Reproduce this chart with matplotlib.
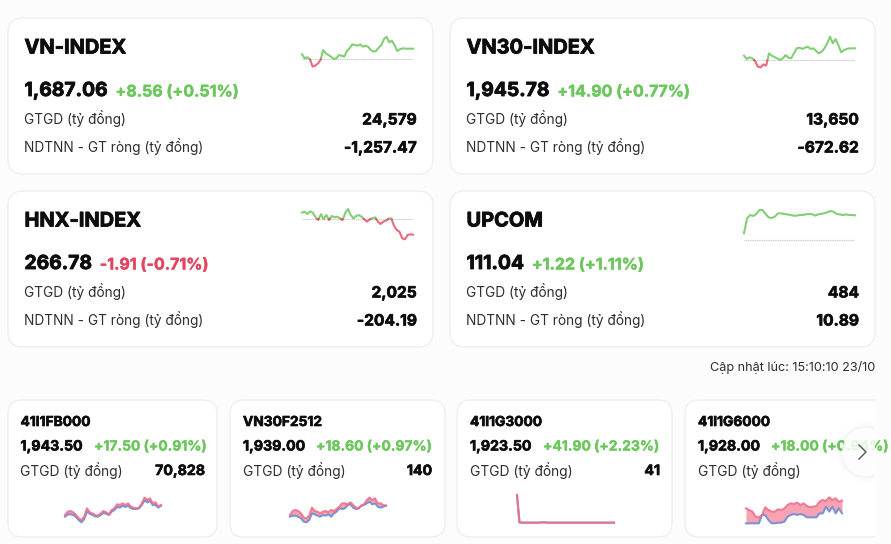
import matplotlib
matplotlib.use("Agg")
import matplotlib.pyplot as plt
import matplotlib.patheffects as pe
from matplotlib.patches import FancyBboxPatch, Circle, Rectangle
import numpy as np

plt.rcParams['font.family'] = ['Inter', 'Noto Sans', 'DejaVu Sans']

GREEN = '#6cc75c'
RED = '#e6455f'
BLUE = '#6f8fd6'
PINK = '#ef6f88'
DARK = '#0d0d0d'
GREY = '#2e2e2e'

# big cards
names = ['VN-INDEX', 'VN30-INDEX', 'HNX-INDEX', 'UPCOM']
prices = ['1,687.06', '1,945.78', '266.78', '111.04']
changes = ['+8.56 (+0.51%)', '+14.90 (+0.77%)', '-1.91 (-0.71%)', '+1.22 (+1.11%)']
gtgd = ['24,579', '13,650', '2,025', '484']
ndtnn = ['-1,257.47', '-672.62', '-204.19', '10.89']

# small cards
small_names = ['41I1FB000', 'VN30F2512', '41I1G3000', '41I1G6000']
small_prices = ['1,943.50', '1,939.00', '1,923.50', '1,928.00']
small_changes = ['+17.50 (+0.91%)', '+18.60 (+0.97%)', '+41.90 (+2.23%)', '+18.00 (+0.94%)']
small_gtgd = ['70,828', '140', '41', '']

# sparklines (screen height, larger = lower)
vn_line = [88, 100, 97, 102, 125, 122, 116, 105, 75, 85, 90, 95, 102, 100, 90, 92, 95, 78, 70, 58, 60, 62,
           58, 65, 62, 65, 75, 80, 78, 68, 60, 42, 35, 52, 47, 60, 78, 73, 70, 71, 71, 71, 71]
vn30_line = [92, 102, 97, 100, 108, 125, 127, 118, 122, 85, 92, 96, 100, 105, 100, 90, 98, 100, 85, 70, 68, 72, 68,
             65, 72, 70, 78, 85, 80, 70, 55, 35, 55, 42, 60, 82, 75, 72, 70, 70, 70]
hnx_line = [38, 35, 42, 34, 38, 52, 60, 42, 58, 45, 60, 48, 52, 50, 55, 60, 38, 27, 45, 55, 48, 45, 50, 58, 65, 58,
            55, 52, 65, 72, 65, 62, 56, 55, 78, 90, 95, 115, 118, 105, 103, 104]
upcom_line = [100, 55, 45, 48, 42, 30, 30, 42, 52, 54, 50, 40, 40, 42, 43, 45, 47, 47, 45, 45, 43, 42, 42, 47, 43,
              42, 40, 37, 33, 35, 42, 43, 45, 43, 45, 45, 46]

fb_red = [90, 80, 78, 82, 90, 100, 105, 95, 70, 82, 85, 90, 92, 85, 78, 82, 88, 75, 70, 58, 60, 55, 60, 55, 65, 68,
          70, 68, 55, 38, 45, 40, 55, 52, 65, 60]
fb_blue = [95, 88, 88, 90, 96, 105, 112, 102, 80, 86, 90, 94, 95, 90, 84, 86, 90, 80, 75, 66, 68, 62, 66, 62, 70,
           72, 72, 70, 60, 46, 52, 48, 60, 60, 68, 62]
f2_red = [90, 78, 75, 78, 85, 98, 100, 92, 68, 78, 80, 85, 80, 78, 82, 75, 78, 72, 65, 55, 55, 58, 52, 60, 68, 70,
          62, 58, 45, 38, 45, 40, 55, 55, 60, 62]
f2_blue = [95, 92, 92, 95, 100, 110, 112, 105, 85, 88, 92, 95, 90, 92, 88, 95, 85, 80, 70, 72, 70, 60, 58, 68, 72,
           70, 62, 60, 55, 50, 58, 55, 65, 68, 65, 62]
g3_red = [30, 112, 113, 113, 113, 113, 113, 113, 113, 113, 112, 112, 113, 113, 113, 113, 113, 113, 113, 113, 113,
          113, 113, 113, 113, 113, 113, 113, 113, 113, 113, 113, 113, 113, 113, 113, 113, 113, 113, 113]
g6_red = [325, 330, 335, 350, 352, 345, 322, 330, 335, 335, 328, 330, 325, 315, 310, 312, 308, 315, 310, 318, 322,
          320, 318, 305, 300, 303, 292, 300, 295, 305, 302]
g6_blue = [370, 370, 370, 370, 370, 345, 345, 360, 370, 370, 368, 368, 365, 350, 345, 342, 345, 342, 345, 352, 352,
           352, 352, 340, 340, 320, 335, 320, 340, 325, 340]

W, H = 891, 544
fig = plt.figure(figsize=(W / 100, H / 100), dpi=100, facecolor='#fcfcfc')
ax = fig.add_axes([0, 0, 1, 1])
ax.set_xlim(0, W)
ax.set_ylim(H, 0)
ax.axis('off')


def heavy(t, w=0.45):
    # the installed bold is lighter than the one in the picture
    t.set_path_effects([pe.withStroke(linewidth=w, foreground=t.get_color())])
    return t


def card(x0, y0, x1, y1, r=15, clip=None):
    p = FancyBboxPatch((x0 + r, y0 + r), x1 - x0 - 2 * r, y1 - y0 - 2 * r,
                       boxstyle="round,pad=%d,rounding_size=%d" % (r, r),
                       fc='white', ec='#efefef', lw=1.0)
    ax.add_patch(p)
    if clip is not None:
        p.set_clip_path(clip)


def px_axes(x0, x1, y0, y1, zmin, zmax):
    # axes placed in pixels, its y range is the height range of the sparkline
    a = fig.add_axes([x0 / W, 1 - y1 / H, (x1 - x0) / W, (y1 - y0) / H])
    a.set_ylim(zmax, zmin)
    a.axis('off')
    a.patch.set_alpha(0)
    return a


def spark_index(vals, base, x0, x1, ytop, zscale=3.0):
    # green above the reference level, red below it
    vals = np.array(vals, dtype=float)
    n = len(vals)
    xs = np.arange(n)
    zmin, zmax = 0, 150
    a = px_axes(x0, x1, ytop, ytop + (zmax - zmin) / zscale, zmin, zmax)
    a.set_xlim(0, n - 1)
    a.plot(xs, np.full(n, base), color='#c9c9c9', lw=0.8, ls=(0, (1, 0.6)))
    xf = np.linspace(0, n - 1, n * 10)
    yf = np.interp(xf, xs, vals)
    a.plot(xf, np.ma.masked_where(yf > base, yf), color=GREEN, lw=1.5, alpha=0.85, clip_on=False)
    a.plot(xf, np.ma.masked_where(yf <= base, yf), color=RED, lw=1.5, alpha=0.8, clip_on=False)


def spark_basis(red, blue, x0, x1, ytop, zmin, zmax, zscale=3.0):
    n = len(red)
    xs = np.arange(n)
    a = px_axes(x0, x1, ytop, ytop + (zmax - zmin) / zscale, zmin, zmax)
    a.set_xlim(0, n - 1)
    a.fill_between(xs, red, blue, color='#f8a3b3', lw=0)
    a.plot(xs, blue, color=BLUE, lw=1.5, alpha=0.9, clip_on=False)
    a.plot(xs, red, color=PINK, lw=1.5, alpha=0.9, clip_on=False)


# big cards
big_x = [8, 450, 8, 450]
big_y = [18, 18, 191, 191]
for i in range(4):
    x, y = big_x[i], big_y[i]
    card(x, y, x + 425, y + 156)
    tx = x + 16.5
    heavy(ax.text(tx, y + 30.5, names[i], fontsize=14.4, fontweight='bold', color=DARK, va='center'), 0.6)
    t = heavy(ax.text(tx, y + 73, prices[i], fontsize=13.9, fontweight='bold', color=DARK, va='center'), 0.6)
    fig.canvas.draw()
    bb = t.get_window_extent()
    col = RED if changes[i].startswith('-') else GREEN
    heavy(ax.text(bb.x1 + 8, y + 74, changes[i], fontsize=11.5, fontweight='bold', color=col, va='center'), 0.3)
    ax.text(tx, y + 101, 'GTGD (tỷ đồng)', fontsize=9.85, color=GREY, va='center')
    heavy(ax.text(x + 409, y + 102, gtgd[i], fontsize=11.2, fontweight='bold', color=DARK, va='center', ha='right'))
    ax.text(tx, y + 129, 'NDTNN - GT ròng (tỷ đồng)', fontsize=9.85, color=GREY, va='center')
    heavy(ax.text(x + 409, y + 130, ndtnn[i], fontsize=11.2, fontweight='bold', color=DARK, va='center', ha='right'))

spark_index(vn_line, 103, 302, 413, 25)
spark_index(vn30_line, 105, 744, 855, 25)
spark_index(hnx_line, 57, 302, 413, 200)
spark_index(upcom_line, 120, 744, 855, 200)

ax.text(875, 368, 'Cập nhật lúc: 15:10:10 23/10', fontsize=9.1, color=GREY, va='center', ha='right')

# small cards, the carousel is cut off at x = 875
clip = Rectangle((0, 390), 875, 154, transform=ax.transData)
small_x0 = [8, 230, 457, 685]
small_x1 = [217, 445, 672, 900]
small_tx = [20.5, 243, 470, 698]
small_cx = [94, 316, 543, 771]
small_vx = [205, 432, 660, 0]
for i in range(4):
    card(small_x0[i], 400, small_x1[i], 537, r=14, clip=clip)
    heavy(ax.text(small_tx[i], 422, small_names[i], fontsize=9.9, fontweight='bold', color=DARK, va='center'))
    heavy(ax.text(small_tx[i], 446.5, small_prices[i], fontsize=10.2, fontweight='bold', color=DARK, va='center'))
    t = heavy(ax.text(small_cx[i], 446.5, small_changes[i], fontsize=10.0, fontweight='bold', color=GREEN, va='center'), 0.25)
    t.set_clip_path(clip)
    ax.text(small_tx[i], 471, 'GTGD (tỷ đồng)', fontsize=9.9, color=GREY, va='center')
    if small_gtgd[i]:
        heavy(ax.text(small_vx[i], 471, small_gtgd[i], fontsize=10.2, fontweight='bold', color=DARK, va='center', ha='right'))

spark_basis(fb_red, fb_blue, 65, 161, 485, 0, 135)
spark_basis(f2_red, f2_blue, 290, 386, 485, 0, 135)
spark_basis(g3_red, g3_red, 517, 614, 485, 0, 135)
spark_basis(g6_red, g6_blue, 746, 842, 490, 270, 390)

# next button over the last card
for r, a_ in zip([30, 28, 26], [0.008, 0.012, 0.018]):
    c = Circle((866, 452), r, fc='black', ec='none', alpha=a_, zorder=5)
    ax.add_patch(c)
    c.set_clip_path(clip)
c = Circle((866, 452), 24, fc='white', ec='none', alpha=0.85, zorder=6)
ax.add_patch(c)
c.set_clip_path(clip)
ax.plot([859, 866, 859], [445, 452, 459], color='#555555', lw=1.0, zorder=7)

fig.savefig('out.png', dpi=100, facecolor=fig.get_facecolor())
